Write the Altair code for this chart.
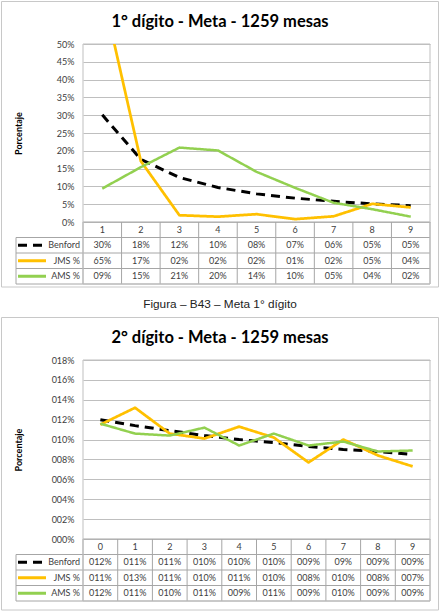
import altair as alt
import pandas as pd

# ---------------- data ----------------
series = ["Benford", "JMS %", "AMS %"]
series_colors = ["#000000", "#FFC000", "#92D050"]

title1 = "1° dígito - Meta - 1259 mesas"
digits1 = [1, 2, 3, 4, 5, 6, 7, 8, 9]
benford1 = [30.1, 17.6, 12.5, 9.7, 7.9, 6.7, 5.8, 5.1, 4.6]
jms1 = [65.0, 17.1, 1.9, 1.5, 2.2, 0.8, 1.6, 5.1, 4.1]
ams1 = [9.4, 15.4, 20.9, 20.1, 14.1, 9.6, 5.4, 3.6, 1.5]
benford1_lbl = ["30%", "18%", "12%", "10%", "08%", "07%", "06%", "05%", "05%"]
jms1_lbl = ["65%", "17%", "02%", "02%", "02%", "01%", "02%", "05%", "04%"]
ams1_lbl = ["09%", "15%", "21%", "20%", "14%", "10%", "05%", "04%", "02%"]
ticks1 = [0, 5, 10, 15, 20, 25, 30, 35, 40, 45, 50]

caption = "Figura – B43 – Meta 1° dígito"

title2 = "2° dígito - Meta - 1259 mesas"
digits2 = [0, 1, 2, 3, 4, 5, 6, 7, 8, 9]
benford2 = [12.0, 11.4, 10.9, 10.4, 10.0, 9.7, 9.3, 9.0, 8.8, 8.5]
jms2 = [11.5, 13.2, 10.6, 10.1, 11.3, 10.2, 7.7, 10.0, 8.4, 7.3]
ams2 = [11.6, 10.6, 10.4, 11.2, 9.4, 10.6, 9.4, 9.8, 8.8, 8.9]
benford2_lbl = ["012%", "011%", "011%", "010%", "010%", "010%", "009%", "09%", "009%", "009%"]
jms2_lbl = ["011%", "013%", "011%", "010%", "011%", "010%", "008%", "010%", "008%", "007%"]
ams2_lbl = ["012%", "011%", "010%", "011%", "009%", "011%", "009%", "010%", "009%", "009%"]
ticks2 = [0, 2, 4, 6, 8, 10, 12, 14, 16, 18]

W = 347
GRID = "#BFBFBF"
TBL = "#A6A6A6"
TXT = "#404040"
FONT = "Lato"


def figure(title, digits, vals, labels, ticks, fmt, plot_h, table_h, border_bottom):
    H = plot_h + table_h
    lo, hi = digits[0] - 0.5, digits[-1] + 0.5
    xs = alt.Scale(domain=[lo, hi], nice=False, zero=False)
    ys = alt.Scale(domain=[ticks[0] / 100, ticks[-1] / 100], range=[plot_h, 0],
                   nice=False, zero=False)
    ts = alt.Scale(domain=[0, 4], range=[plot_h, H], nice=False, zero=False)

    long = pd.DataFrame([
        {"d": d, "s": s, "v": v / 100}
        for s, vs in zip(series, vals) for d, v in zip(digits, vs)
    ])
    cells = pd.DataFrame(
        [{"d": d, "r": 0.5, "t": str(d)} for d in digits]
        + [{"d": d, "r": k + 1.5, "t": t}
           for k, ls in enumerate(labels) for d, t in zip(digits, ls)]
    )
    legend_df = pd.DataFrame([{"s": s, "r": k + 1.5} for k, s in enumerate(series)])
    one = pd.DataFrame({"t": [title]})
    bounds_df = pd.DataFrame({"b": [d - 0.5 for d in digits] + [hi], "y0": 0, "y1": 4})
    rows_df = pd.DataFrame({"r": [1, 2, 3, 4]})
    head_df = pd.DataFrame({"r": [0]})
    leftcol_df = pd.DataFrame({"y0": [1], "y1": [4]})

    color = alt.Color("s:N", scale=alt.Scale(domain=series, range=series_colors), legend=None)
    dash = alt.StrokeDash("s:N", scale=alt.Scale(domain=series, range=[[9, 6], [1, 0], [1, 0]]),
                          legend=None)
    width = alt.StrokeWidth("s:N", scale=alt.Scale(domain=series, range=[3, 2.5, 2.5]),
                            legend=None)

    border = alt.Chart(one).mark_rect(fill="transparent", stroke="#C8C8C8", strokeWidth=1).encode(
        x=alt.value(-81.5), x2=alt.value(355.5), y=alt.value(-42.5), y2=alt.value(border_bottom))
    frame = alt.Chart(one).mark_rect(fill="transparent", stroke=GRID, strokeWidth=1).encode(
        x=alt.value(0), x2=alt.value(W), y=alt.value(0), y2=alt.value(H))
    ttl = alt.Chart(one).mark_text(font=FONT, fontSize=16.5, fontWeight="bold", color="#000000",
                                   baseline="middle", align="center").encode(
        x=alt.value(137), y=alt.value(-22), text="t:N")

    vlines = alt.Chart(bounds_df).mark_rule(color=TBL, strokeWidth=1).encode(
        x=alt.X("b:Q", scale=xs, axis=None),
        y=alt.Y("y0:Q", scale=ts, axis=None), y2="y1:Q")
    leftcol = alt.Chart(leftcol_df).mark_rule(color=TBL, strokeWidth=1).encode(
        x=alt.value(-67), y=alt.Y("y0:Q", scale=ts, axis=None), y2="y1:Q")
    hrows = alt.Chart(rows_df).mark_rule(color=TBL, strokeWidth=1).encode(
        x=alt.value(-67), x2=alt.value(W), y=alt.Y("r:Q", scale=ts, axis=None))
    hhead = alt.Chart(head_df).mark_rule(color=TBL, strokeWidth=1).encode(
        x=alt.value(0), x2=alt.value(W), y=alt.Y("r:Q", scale=ts, axis=None))

    lines = alt.Chart(long).mark_line(clip=True, strokeCap="butt", strokeJoin="round").encode(
        x=alt.X("d:Q", scale=xs, axis=None),
        y=alt.Y("v:Q", scale=ys, axis=alt.Axis(
            values=[t / 100 for t in ticks], format=fmt, grid=True, gridColor=GRID,
            domain=False, ticks=False, labelFont=FONT, labelFontSize=9, labelColor=TXT,
            labelPadding=9, title="Porcentaje", titleFont=FONT, titleFontSize=9,
            titleFontWeight="bold", titleColor="#000000", titleX=-65, titleY=plot_h / 2,
            titleAngle=270, titleAlign="center", titleBaseline="middle")),
        color=color, strokeDash=dash, strokeWidth=width,
    )

    cells_chart = alt.Chart(cells).mark_text(font=FONT, fontSize=9, color=TXT,
                                             baseline="middle", align="center").encode(
        x=alt.X("d:Q", scale=xs, axis=None),
        y=alt.Y("r:Q", scale=ts, axis=None),
        text="t:N")

    sym = alt.Chart(legend_df).mark_rule(strokeCap="butt").encode(
        x=alt.value(-65), x2=alt.value(-37),
        y=alt.Y("r:Q", scale=ts, axis=None),
        color=color, strokeDash=dash,
        strokeWidth=alt.StrokeWidth("s:N", scale=alt.Scale(domain=series, range=[3, 3, 3]),
                                    legend=None))
    sym_lbl = alt.Chart(legend_df).mark_text(font=FONT, fontSize=9, color=TXT,
                                             baseline="middle", align="right").encode(
        x=alt.value(-3), y=alt.Y("r:Q", scale=ts, axis=None), text="s:N")

    return alt.layer(border, ttl, vlines, leftcol, hrows, hhead, frame, lines,
                     cells_chart, sym, sym_lbl).resolve_scale(
        y="independent", strokeWidth="independent").properties(width=W, height=H)


fig1 = figure(title1, digits1, [benford1, jms1, ams1],
              [benford1_lbl, jms1_lbl, ams1_lbl], ticks1, "02.0%", 178, 62, 243)
fig2 = figure(title2, digits2, [benford2, jms2, ams2],
              [benford2_lbl, jms2_lbl, ams2_lbl], ticks2, "04.0%", 179, 62, 250)

cap = alt.Chart(pd.DataFrame({"t": [caption]})).mark_text(
    font="Liberation Sans", fontSize=11.8, color="#222222", baseline="middle", align="center"
).encode(x=alt.value(137), y=alt.value(20), text="t:N").properties(width=W, height=76)

chart = alt.vconcat(fig1, cap, fig2, spacing=0, bounds="flush").properties(
    padding=0, background="white"
).configure_view(stroke="transparent")

chart.save("out.html", embed_options={"renderer": "svg", "actions": False})
